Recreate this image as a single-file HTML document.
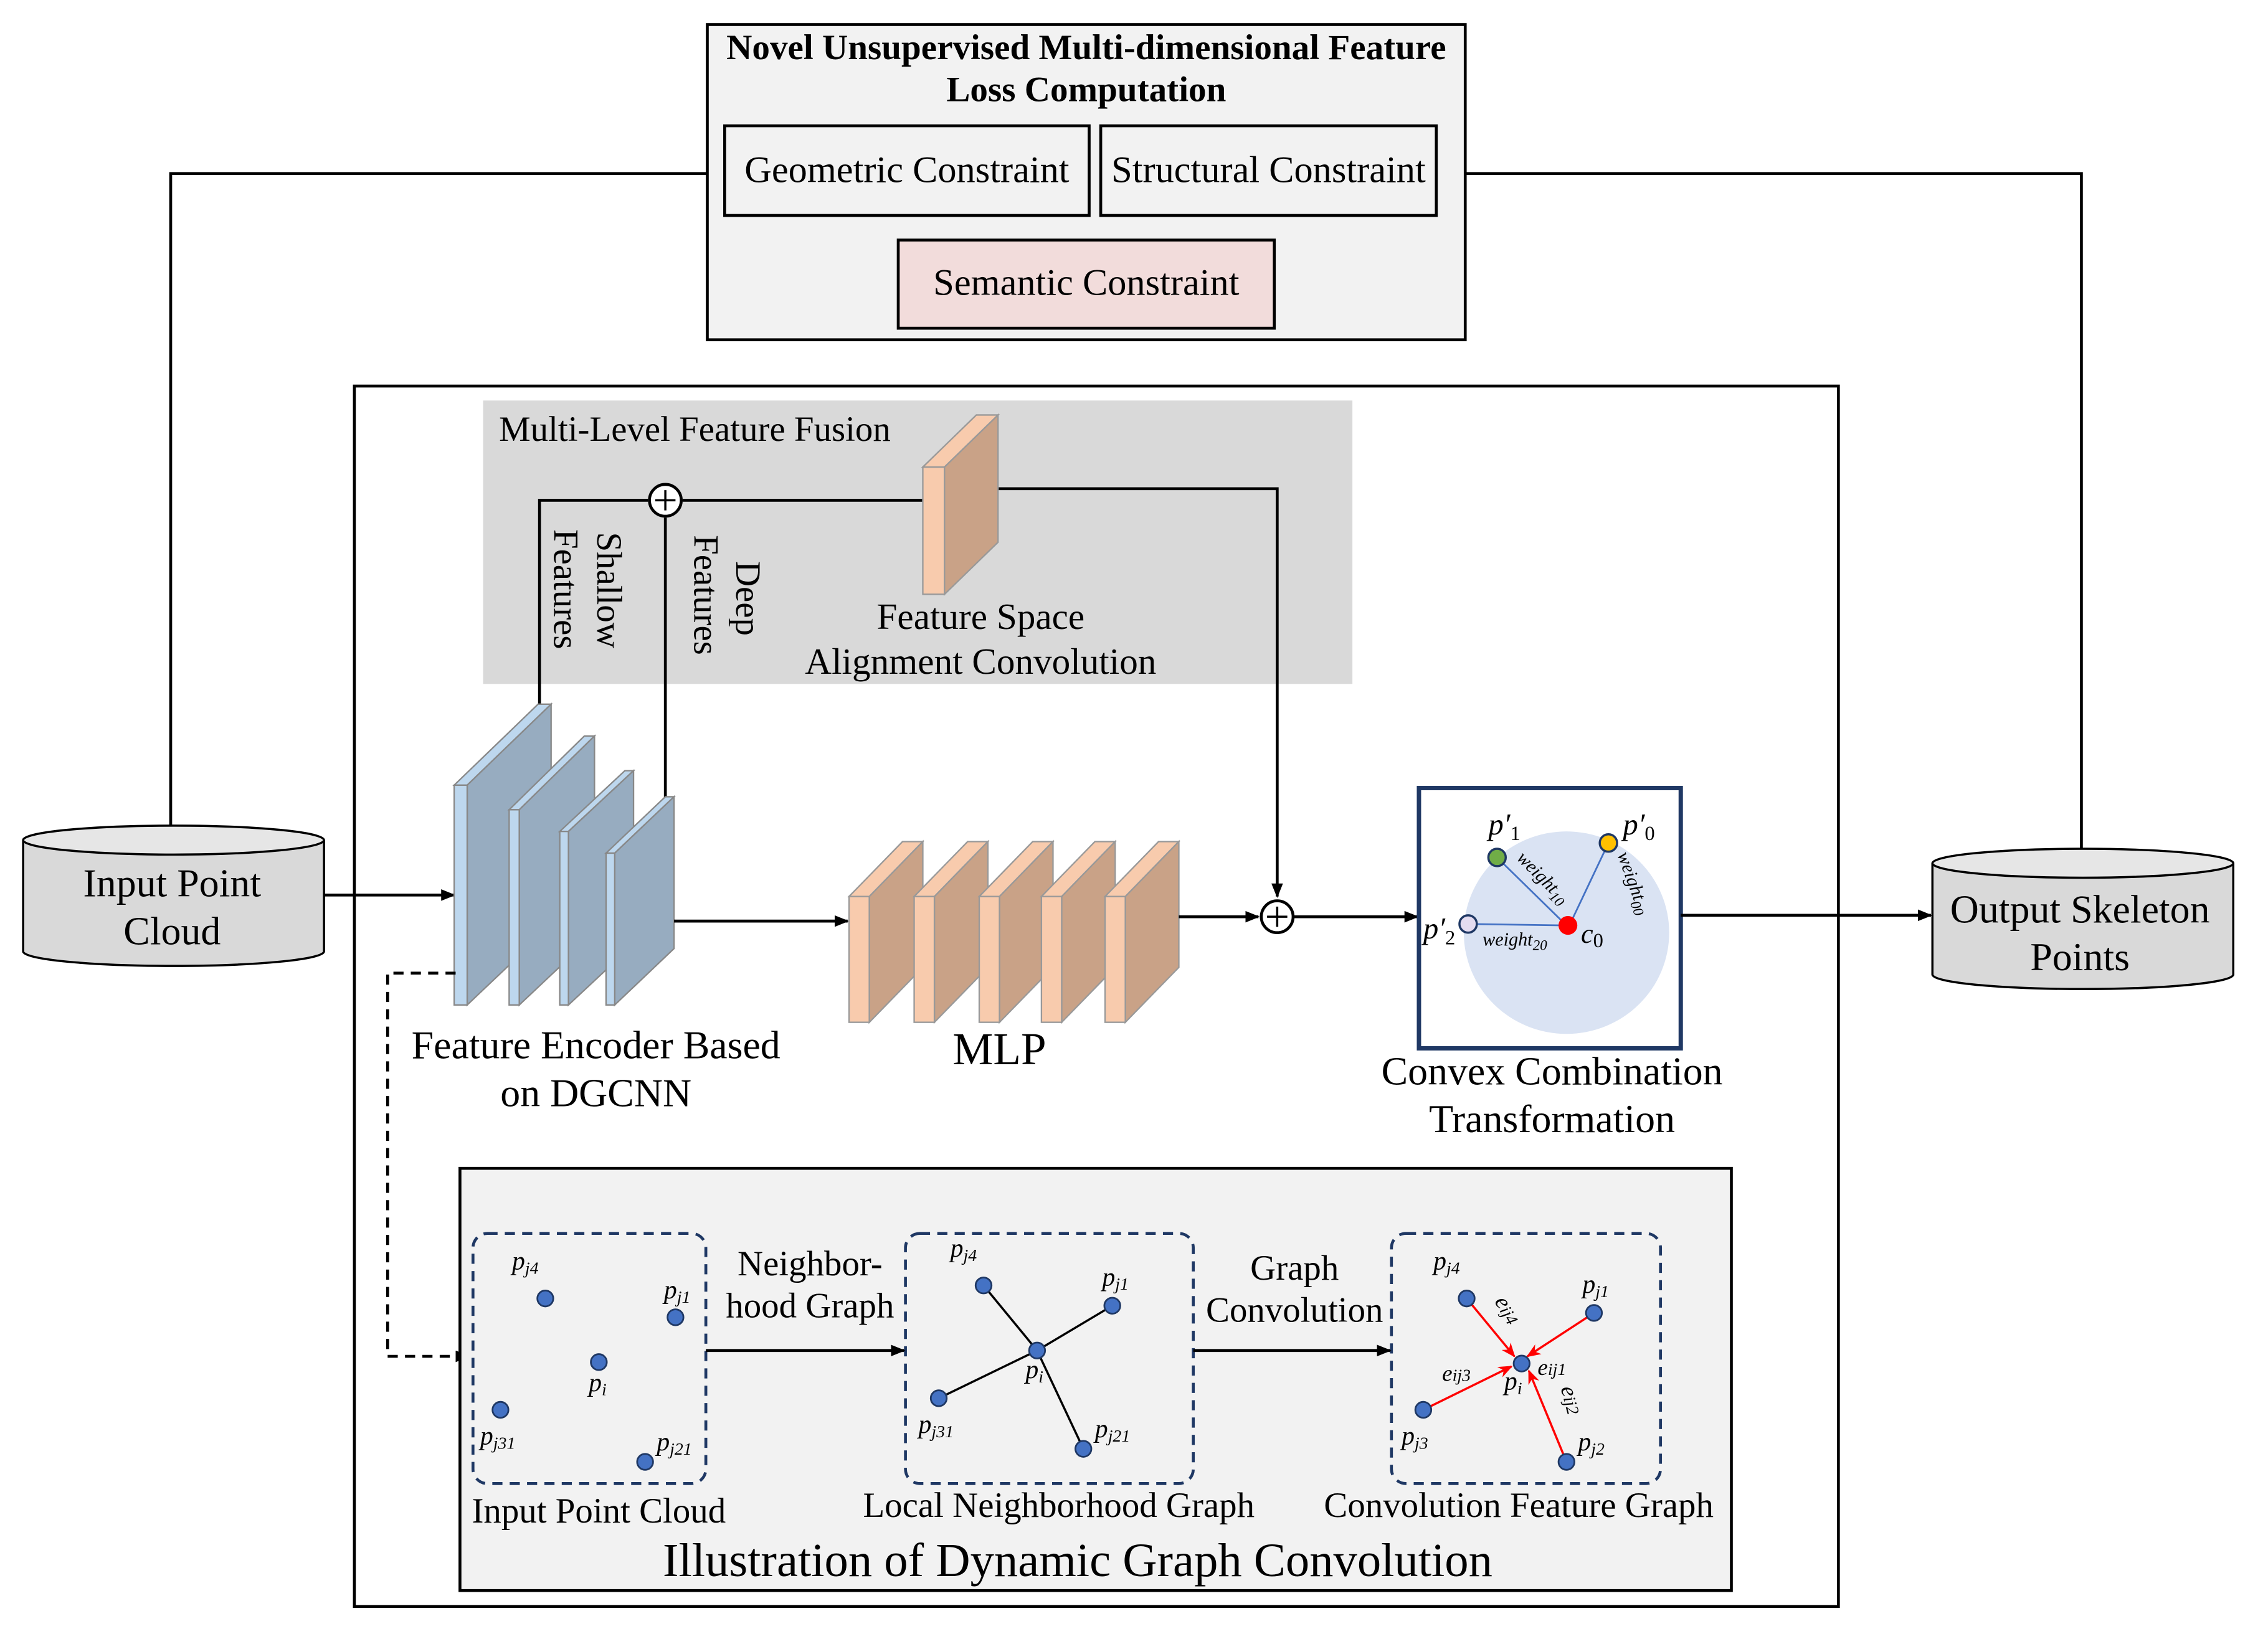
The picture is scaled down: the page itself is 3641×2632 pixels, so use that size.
<!DOCTYPE html>
<html><head><meta charset="utf-8"><style>
html,body{margin:0;padding:0;background:#fff}
svg{display:block}
text{font-family:"Liberation Serif",serif;fill:#000}
.it{font-style:italic}
</style></head><body>
<svg width="3641" height="2632" viewBox="0 0 1568 1133.5" preserveAspectRatio="none" xmlns="http://www.w3.org/2000/svg">
<defs>
<marker id="ah" markerWidth="10" markerHeight="8" refX="9" refY="4" orient="auto" markerUnits="userSpaceOnUse"><path d="M0,0 L10,4 L0,8 z" fill="#000"/></marker>
<marker id="rh" markerWidth="10" markerHeight="8" refX="9" refY="4" orient="auto" markerUnits="userSpaceOnUse"><path d="M0,0 L10,4 L0,8 L3,4 z" fill="#f00"/></marker>
</defs>

<rect x="489" y="17" width="524" height="218" fill="#f2f2f2" stroke="#000" stroke-width="2"/>
<text x="751" y="41" font-size="24.6" font-weight="bold" text-anchor="middle">Novel Unsupervised Multi-dimensional Feature</text>
<text x="751" y="70" font-size="24.6" font-weight="bold" text-anchor="middle">Loss Computation</text>
<rect x="501" y="87" width="252" height="62" fill="#f2f2f2" stroke="#000" stroke-width="2"/>
<text x="627" y="126" font-size="26" text-anchor="middle">Geometric Constraint</text>
<rect x="761" y="87" width="232" height="62" fill="#f2f2f2" stroke="#000" stroke-width="2"/>
<text x="877" y="126" font-size="26" text-anchor="middle">Structural Constraint</text>
<rect x="621" y="166" width="260" height="61" fill="#f2dcdb" stroke="#000" stroke-width="2"/>
<text x="751" y="204" font-size="26" text-anchor="middle">Semantic Constraint</text>

<polyline points="489,120 118,120 118,575" fill="none" stroke="#000" stroke-width="2"/>
<polyline points="1013,120 1439,120 1439,588" fill="none" stroke="#000" stroke-width="2"/>

<rect x="245" y="267" width="1026" height="844" fill="#fff" stroke="#000" stroke-width="2"/>
<rect x="334" y="277" width="601" height="196" fill="#d9d9d9"/>
<text x="345" y="305" font-size="24.5">Multi-Level Feature Fusion</text>

<polyline points="373,488 373,346 448,346" fill="none" stroke="#000" stroke-width="2"/>
<line x1="472" y1="346" x2="640" y2="346" stroke="#000" stroke-width="2"/>
<line x1="460" y1="358" x2="460" y2="554" stroke="#000" stroke-width="2"/>
<polyline points="689,338 883,338 883,620" fill="none" stroke="#000" stroke-width="2" marker-end="url(#ah)"/>
<circle cx="460" cy="346" r="11" fill="#fff" stroke="#000" stroke-width="2"/>
<path d="M453,346 H467 M460,339 V353" stroke="#000" stroke-width="1.5"/>

<text transform="translate(383,366) rotate(90)" font-size="24.5">Features</text>
<text transform="translate(413,368) rotate(90)" font-size="24.5">Shallow</text>
<text transform="translate(480,370) rotate(90)" font-size="24.5">Features</text>
<text transform="translate(509,388) rotate(90)" font-size="24.5">Deep</text>

<polygon points="638,323 653,323 690,287 675,287" fill="#f8cbad" stroke="#999" stroke-width="1"/>
<rect x="638" y="323" width="15" height="88" fill="#f8cbad" stroke="#999" stroke-width="1"/>
<polygon points="653,323 690,287 690,375 653,411" fill="#c9a287" stroke="#999" stroke-width="1"/>
<text x="678" y="435" font-size="25.5" text-anchor="middle">Feature Space</text>
<text x="678" y="466" font-size="25.5" text-anchor="middle">Alignment Convolution</text>

<path d="M16,581 L16,658 A104,10 0 0 0 224,658 L224,581" fill="#d9d9d9" stroke="#000" stroke-width="1.5"/>
<ellipse cx="120" cy="581" rx="104" ry="10" fill="#e6e6e6" stroke="#000" stroke-width="1.5"/>
<text x="119" y="620" font-size="27.5" text-anchor="middle">Input Point</text>
<text x="119" y="653" font-size="27.5" text-anchor="middle">Cloud</text>
<line x1="224" y1="619" x2="314" y2="619" stroke="#000" stroke-width="2" marker-end="url(#ah)"/>

<path d="M1336,597 L1336,674 A104,10 0 0 0 1544,674 L1544,597" fill="#d9d9d9" stroke="#000" stroke-width="1.5"/>
<ellipse cx="1440" cy="597" rx="104" ry="10" fill="#e6e6e6" stroke="#000" stroke-width="1.5"/>
<text x="1438" y="638" font-size="27.5" text-anchor="middle">Output Skeleton</text>
<text x="1438" y="671" font-size="27.5" text-anchor="middle">Points</text>

<g stroke="#888" stroke-width="1">
<polygon points="314,543 323,543 381,487 372,487" fill="#bdd7ee"/>
<polygon points="323,543 381,487 381,640 323,695" fill="#97acc0"/>
<rect x="314" y="543" width="9" height="152" fill="#bdd7ee"/>
<polygon points="352,560 359,560 411,509 404,509" fill="#bdd7ee"/>
<polygon points="359,560 411,509 411,646 359,695" fill="#97acc0"/>
<rect x="352" y="560" width="7" height="135" fill="#bdd7ee"/>
<polygon points="387,575 393,575 438,533 432,533" fill="#bdd7ee"/>
<polygon points="393,575 438,533 438,653 393,695" fill="#97acc0"/>
<rect x="387" y="575" width="6" height="120" fill="#bdd7ee"/>
<polygon points="419,590 425,590 466,551 460,551" fill="#bdd7ee"/>
<polygon points="425,590 466,551 466,656 425,695" fill="#97acc0"/>
<rect x="419" y="590" width="6" height="105" fill="#bdd7ee"/>
</g>
<text x="412" y="732" font-size="27.5" text-anchor="middle">Feature Encoder Based</text>
<text x="412" y="765" font-size="27.5" text-anchor="middle">on DGCNN</text>
<line x1="466" y1="637" x2="586" y2="637" stroke="#000" stroke-width="2" marker-end="url(#ah)"/>

<g stroke="#999" stroke-width="1">
<polygon points="587,620 601,620 638,582 624,582" fill="#f8cbad"/>
<polygon points="601,620 638,582 638,669 601,707" fill="#c9a287"/>
<rect x="587" y="620" width="14" height="87" fill="#f8cbad"/>
<polygon points="632,620 646,620 683,582 669,582" fill="#f8cbad"/>
<polygon points="646,620 683,582 683,669 646,707" fill="#c9a287"/>
<rect x="632" y="620" width="14" height="87" fill="#f8cbad"/>
<polygon points="677,620 691,620 728,582 714,582" fill="#f8cbad"/>
<polygon points="691,620 728,582 728,669 691,707" fill="#c9a287"/>
<rect x="677" y="620" width="14" height="87" fill="#f8cbad"/>
<polygon points="720,620 734,620 771,582 757,582" fill="#f8cbad"/>
<polygon points="734,620 771,582 771,669 734,707" fill="#c9a287"/>
<rect x="720" y="620" width="14" height="87" fill="#f8cbad"/>
<polygon points="764,620 778,620 815,582 801,582" fill="#f8cbad"/>
<polygon points="778,620 815,582 815,669 778,707" fill="#c9a287"/>
<rect x="764" y="620" width="14" height="87" fill="#f8cbad"/>
</g>
<text x="691" y="736" font-size="31.5" text-anchor="middle">MLP</text>
<line x1="815" y1="634" x2="870" y2="634" stroke="#000" stroke-width="2" marker-end="url(#ah)"/>
<circle cx="883" cy="634" r="11" fill="#fff" stroke="#000" stroke-width="2"/>
<path d="M876,634 H890 M883,627 V641" stroke="#000" stroke-width="1.5"/>
<line x1="894" y1="634" x2="980" y2="634" stroke="#000" stroke-width="2" marker-end="url(#ah)"/>

<rect x="981" y="545" width="181" height="180" fill="#fff" stroke="#1f3864" stroke-width="3"/>
<ellipse cx="1083" cy="645" rx="71" ry="70" fill="#dae3f3"/>
<g stroke="#4472c4" stroke-width="1.2">
<line x1="1035" y1="593" x2="1083" y2="640"/>
<line x1="1112" y1="583" x2="1085" y2="640"/>
<line x1="1015" y1="639" x2="1083" y2="640"/>
</g>
<circle cx="1035" cy="593" r="6" fill="#70ad47" stroke="#1f3864" stroke-width="1.5"/>
<circle cx="1112" cy="583" r="6" fill="#ffc000" stroke="#1f3864" stroke-width="1.5"/>
<circle cx="1015" cy="639" r="6" fill="#e4dcf0" stroke="#1f3864" stroke-width="1.5"/>
<circle cx="1084" cy="640" r="6.5" fill="#f00"/>
<text x="1029" y="577" font-size="21" class="it">p′<tspan font-size="14" font-style="normal" dy="4">1</tspan></text>
<text x="1122" y="577" font-size="21" class="it">p′<tspan font-size="14" font-style="normal" dy="4">0</tspan></text>
<text x="984" y="649" font-size="21" class="it">p′<tspan font-size="14" font-style="normal" dy="4">2</tspan></text>
<text x="1093" y="652" font-size="19" class="it">c<tspan font-size="14" font-style="normal" dy="3">0</tspan></text>
<text transform="translate(1048,594) rotate(45)" font-size="13" class="it">weight<tspan font-size="10" dy="3">10</tspan></text>
<text transform="translate(1118,591) rotate(70)" font-size="13" class="it">weight<tspan font-size="10" dy="3">00</tspan></text>
<text x="1025" y="654" font-size="13" class="it">weight<tspan font-size="10" dy="3">20</tspan></text>
<text x="1073" y="750" font-size="27.5" text-anchor="middle">Convex Combination</text>
<text x="1073" y="783" font-size="27.5" text-anchor="middle">Transformation</text>
<line x1="1162" y1="633" x2="1335" y2="633" stroke="#000" stroke-width="2" marker-end="url(#ah)"/>

<polyline points="315,673 268,673 268,938 324,938" fill="none" stroke="#000" stroke-width="2" stroke-dasharray="7,5" marker-end="url(#ah)"/>

<rect x="318" y="808" width="879" height="292" fill="#f2f2f2" stroke="#000" stroke-width="2"/>
<text x="745" y="1090" font-size="33" text-anchor="middle">Illustration of Dynamic Graph Convolution</text>

<g fill="none" stroke="#1f3864" stroke-width="2" stroke-dasharray="7,5">
<rect x="327" y="853" width="161" height="173" rx="10"/>
<rect x="626" y="853" width="199" height="173" rx="10"/>
<rect x="962" y="853" width="186" height="173" rx="10"/>
</g>
<line x1="488" y1="934" x2="625" y2="934" stroke="#000" stroke-width="2" marker-end="url(#ah)"/>
<line x1="825" y1="934" x2="961" y2="934" stroke="#000" stroke-width="2" marker-end="url(#ah)"/>
<text x="560" y="882" font-size="24.5" text-anchor="middle">Neighbor-</text>
<text x="560" y="911" font-size="24.5" text-anchor="middle">hood Graph</text>
<text x="895" y="885" font-size="24.5" text-anchor="middle">Graph</text>
<text x="895" y="914" font-size="24.5" text-anchor="middle">Convolution</text>
<text x="414" y="1053" font-size="24.5" text-anchor="middle">Input Point Cloud</text>
<text x="732" y="1049" font-size="24.5" text-anchor="middle">Local Neighborhood Graph</text>
<text x="1050" y="1049" font-size="24.5" text-anchor="middle">Convolution Feature Graph</text>

<g fill="#4472c4" stroke="#1f3864" stroke-width="1.2">
<circle cx="377" cy="898" r="5.5"/><circle cx="467" cy="911" r="5.5"/><circle cx="414" cy="942" r="5.5"/><circle cx="346" cy="975" r="5.5"/><circle cx="446" cy="1011" r="5.5"/>
</g>
<g font-size="18" class="it">
<text x="354" y="878">p<tspan font-size="12" dy="3">j4</tspan></text>
<text x="459" y="898">p<tspan font-size="12" dy="3">j1</tspan></text>
<text x="407" y="962">p<tspan font-size="12" dy="3">i</tspan></text>
<text x="332" y="999">p<tspan font-size="12" dy="3">j31</tspan></text>
<text x="454" y="1003">p<tspan font-size="12" dy="3">j21</tspan></text>
</g>
<g stroke="#000" stroke-width="1.5">
<line x1="680" y1="889" x2="717" y2="934"/><line x1="769" y1="903" x2="717" y2="934"/><line x1="649" y1="967" x2="717" y2="934"/><line x1="749" y1="1002" x2="717" y2="934"/>
</g>
<g fill="#4472c4" stroke="#1f3864" stroke-width="1.2">
<circle cx="680" cy="889" r="5.5"/><circle cx="769" cy="903" r="5.5"/><circle cx="717" cy="934" r="5.5"/><circle cx="649" cy="967" r="5.5"/><circle cx="749" cy="1002" r="5.5"/>
</g>
<g font-size="18" class="it">
<text x="657" y="869">p<tspan font-size="12" dy="3">j4</tspan></text>
<text x="762" y="889">p<tspan font-size="12" dy="3">j1</tspan></text>
<text x="709" y="953">p<tspan font-size="12" dy="3">i</tspan></text>
<text x="635" y="991">p<tspan font-size="12" dy="3">j31</tspan></text>
<text x="757" y="994">p<tspan font-size="12" dy="3">j21</tspan></text>
</g>
<g stroke="#f00" stroke-width="1.5">
<line x1="1014" y1="898" x2="1047" y2="938" marker-end="url(#rh)"/>
<line x1="1102" y1="908" x2="1056" y2="938" marker-end="url(#rh)"/>
<line x1="984" y1="975" x2="1045" y2="945" marker-end="url(#rh)"/>
<line x1="1083" y1="1011" x2="1057" y2="948" marker-end="url(#rh)"/>
</g>
<g fill="#4472c4" stroke="#1f3864" stroke-width="1.2">
<circle cx="1014" cy="898" r="5.5"/><circle cx="1102" cy="908" r="5.5"/><circle cx="1052" cy="943" r="5.5"/><circle cx="984" cy="975" r="5.5"/><circle cx="1083" cy="1011" r="5.5"/>
</g>
<g font-size="18" class="it">
<text x="991" y="878">p<tspan font-size="12" dy="3">j4</tspan></text>
<text x="1094" y="894">p<tspan font-size="12" dy="3">j1</tspan></text>
<text x="1040" y="961">p<tspan font-size="12" dy="3">i</tspan></text>
<text x="969" y="999">p<tspan font-size="12" dy="3">j3</tspan></text>
<text x="1091" y="1003">p<tspan font-size="12" dy="3">j2</tspan></text>
<text x="997" y="955" font-size="16">e<tspan font-size="12">ij3</tspan></text>
<text x="1063" y="951" font-size="16">e<tspan font-size="12">ij1</tspan></text>
<text transform="translate(1033,900) rotate(60)" font-size="16">e<tspan font-size="12">ij4</tspan></text>
<text transform="translate(1079,960) rotate(75)" font-size="16">e<tspan font-size="12">ij2</tspan></text>
</g>
</svg>
</body></html>
